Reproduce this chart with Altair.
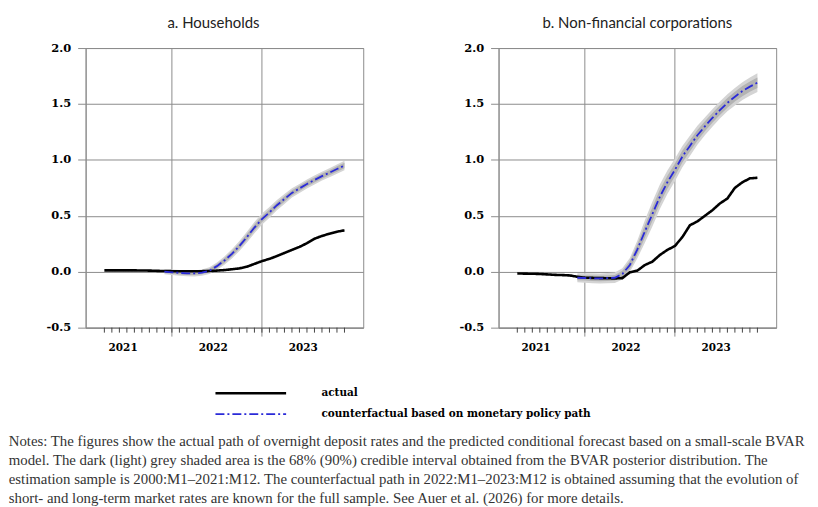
import altair as alt
import pandas as pd

# ---- data (month index: 0 = Jan 2021) ----
months_actual = list(range(3, 36))          # Apr 2021 .. Dec 2023
months_cf = list(range(11, 36))             # Dec 2021 .. Dec 2023
year_labels = ["2021", "2022", "2023"]
year_label_pos = [5.5, 17.5, 29.5]
year_bounds = [12, 24]                      # Jan 2022, Jan 2023
y_ticks = [-0.5, 0.0, 0.5, 1.0, 1.5, 2.0]

series_names = ["actual", "counterfactual based on monetary policy path"]

hh_actual = [0.012, 0.012, 0.012, 0.012, 0.012, 0.011, 0.010, 0.008, 0.006, 0.005,
             0.005, 0.005, 0.005, 0.005, 0.006, 0.010, 0.015, 0.022, 0.030, 0.045,
             0.070, 0.095, 0.115, 0.140, 0.168, 0.195, 0.222, 0.255, 0.295, 0.320,
             0.340, 0.358, 0.370]
hh_cf = [0.000, -0.005, -0.010, -0.015, -0.015, -0.008, 0.010, 0.050, 0.100, 0.160,
         0.230, 0.310, 0.395, 0.470, 0.530, 0.595, 0.650, 0.705, 0.745, 0.785,
         0.820, 0.855, 0.885, 0.918, 0.950]
hh_w90 = [0.022, 0.024, 0.025, 0.026, 0.027, 0.028, 0.030, 0.033, 0.037, 0.041,
          0.045, 0.048, 0.050, 0.050, 0.048, 0.046, 0.044, 0.042, 0.040, 0.040,
          0.040, 0.040, 0.040, 0.041, 0.042]
hh_w68 = [0.012, 0.013, 0.014, 0.014, 0.015, 0.015, 0.017, 0.019, 0.021, 0.023,
          0.025, 0.027, 0.028, 0.028, 0.027, 0.026, 0.025, 0.024, 0.023, 0.023,
          0.023, 0.023, 0.023, 0.024, 0.024]

nfc_actual = [-0.015, -0.017, -0.018, -0.020, -0.024, -0.028, -0.030, -0.033, -0.045, -0.053,
              -0.055, -0.057, -0.058, -0.060, -0.057, -0.005, 0.010, 0.060, 0.090, 0.150,
              0.195, 0.230, 0.310, 0.415, 0.450, 0.500, 0.550, 0.610, 0.655, 0.750,
              0.800, 0.835, 0.840]
nfc_cf = [-0.054, -0.056, -0.058, -0.060, -0.058, -0.054, -0.020, 0.060, 0.200, 0.360,
          0.515, 0.670, 0.800, 0.910, 1.030, 1.125, 1.220, 1.300, 1.375, 1.445,
          1.510, 1.565, 1.615, 1.655, 1.690]
nfc_w90 = [0.040, 0.042, 0.044, 0.045, 0.046, 0.046, 0.050, 0.062, 0.080, 0.100,
           0.110, 0.110, 0.105, 0.100, 0.095, 0.090, 0.085, 0.080, 0.078, 0.076,
           0.076, 0.078, 0.080, 0.082, 0.084]
nfc_w68 = [0.022, 0.023, 0.024, 0.025, 0.025, 0.025, 0.028, 0.035, 0.045, 0.056,
           0.062, 0.062, 0.059, 0.056, 0.053, 0.050, 0.048, 0.045, 0.044, 0.043,
           0.043, 0.044, 0.045, 0.046, 0.047]

notes_lines = [
    "Notes: The figures show the actual path of overnight deposit rates and the predicted conditional forecast based on a small-scale BVAR",
    "model. The dark (light) grey shaded area is the 68% (90%) credible interval obtained from the BVAR posterior distribution. The",
    "estimation sample is 2000:M1\u20132021:M12. The counterfactual path in 2022:M1\u20132023:M12 is obtained assuming that the evolution of",
    "short- and long-term market rates are known for the full sample. See Auer et al. (2026) for more details.",
]

# ---- tables ----
def line_table(actual, cf):
    rows = [{"t": t, "series": series_names[0], "value": v} for t, v in zip(months_actual, actual)]
    rows += [{"t": t, "series": series_names[1], "value": v} for t, v in zip(months_cf, cf)]
    return pd.DataFrame(rows)

def band_table(cf, w90, w68):
    return pd.DataFrame({
        "t": months_cf,
        "lo90": [c - w for c, w in zip(cf, w90)],
        "hi90": [c + w for c, w in zip(cf, w90)],
        "lo68": [c - w for c, w in zip(cf, w68)],
        "hi68": [c + w for c, w in zip(cf, w68)],
    })

year_df = pd.DataFrame({"t": year_label_pos, "label": year_labels, "y": [y_ticks[0]] * 3})
bound_df = pd.DataFrame({"t": year_bounds, "top": [y_ticks[-1]] * 2, "bottom": [y_ticks[0]] * 2})
tick_df = pd.DataFrame({"t": months_actual, "bottom": [y_ticks[0]] * len(months_actual)})

GRID = "#8c8c8c"
TICK = "#444444"
AXFONT = "DejaVu Serif"

x_scale = alt.Scale(domain=[0.5, 37.5], nice=False, zero=False)
y_scale = alt.Scale(domain=[y_ticks[0], y_ticks[-1]], nice=False, zero=False)

x_axis = alt.Axis(
    values=months_actual, labels=False, title=None, grid=False, ticks=False,
    domainColor=GRID,
)
y_axis = alt.Axis(
    values=y_ticks, title=None,
    labelExpr="replace(format(datum.value, '.1f'), '\u2212', '-')",
    labelFont=AXFONT, labelFontWeight="bold", labelFontSize=11.5, labelColor="black",
    labelPadding=7, tickSize=8, tickColor=GRID, domainColor=GRID, gridColor=GRID,
)


def panel(title, lines, bands, dx):
    rules = alt.Chart(bound_df).mark_rule(color=GRID, strokeWidth=1, y2Offset=9).encode(
        x=alt.X("t:Q", scale=x_scale, axis=x_axis),
        y=alt.Y("top:Q", scale=y_scale, axis=y_axis),
        y2="bottom:Q",
    )
    ticks = alt.Chart(tick_df).mark_rule(color=TICK, strokeWidth=1, y2Offset=5).encode(
        x="t:Q", y="bottom:Q", y2="bottom:Q",
    )
    b90 = alt.Chart(bands).mark_area(color="#d4d4d4").encode(
        x="t:Q", y="lo90:Q", y2="hi90:Q",
    )
    b68 = alt.Chart(bands).mark_area(color="#b3b3b3").encode(
        x="t:Q", y="lo68:Q", y2="hi68:Q",
    )
    ln = alt.Chart(lines).mark_line().encode(
        x="t:Q",
        y="value:Q",
        color=alt.Color("series:N", scale=alt.Scale(domain=series_names, range=["black", "#2a2ad8"]),
                        legend=alt.Legend(title=None)),
        strokeDash=alt.StrokeDash("series:N", scale=alt.Scale(domain=series_names, range=[[1, 0], [9, 3, 2, 3]]),
                                  legend=alt.Legend(title=None)),
        strokeWidth=alt.StrokeWidth("series:N", scale=alt.Scale(domain=series_names, range=[2.6, 1.8]),
                                    legend=alt.Legend(title=None)),
    )
    yr = alt.Chart(year_df).mark_text(
        font=AXFONT, fontWeight="bold", fontSize=10.5, color="black", dy=20
    ).encode(x="t:Q", y="y:Q", text="label:N")
    return alt.layer(rules, ticks, b90, b68, ln, yr).properties(
        width=279, height=281,
        title=alt.TitleParams(title, font="Lato", fontSize=15, fontWeight="normal",
                              color="#222", offset=11, dx=dx),
    )


left = panel("a. Households", line_table(hh_actual, hh_cf), band_table(hh_cf, hh_w90, hh_w68), -11)
right = panel("b. Non-financial corporations", line_table(nfc_actual, nfc_cf),
              band_table(nfc_cf, nfc_w90, nfc_w68), 0)

chart = alt.hconcat(left, right, spacing=94).properties(
    padding={"left": 0, "top": 6, "right": 5, "bottom": 0},
    title=alt.TitleParams(notes_lines, orient="bottom", anchor="start", font="Liberation Serif",
                          fontSize=14.9, fontWeight="normal", color="#333", lineHeight=19,
                          offset=10, dx=-37),
).configure_view(stroke=GRID).configure_legend(
    orient="none", legendX=129, legendY=337, direction="vertical",
    symbolType="stroke", symbolSize=5041, clipHeight=20, labelOffset=34, labelLimit=0,
    labelFont=AXFONT, labelFontWeight="bold", labelFontSize=10.5, labelColor="black",
    rowPadding=1, symbolStrokeWidth=2.6,
)

chart.save("out.html", embed_options={"renderer": "svg", "actions": False})
